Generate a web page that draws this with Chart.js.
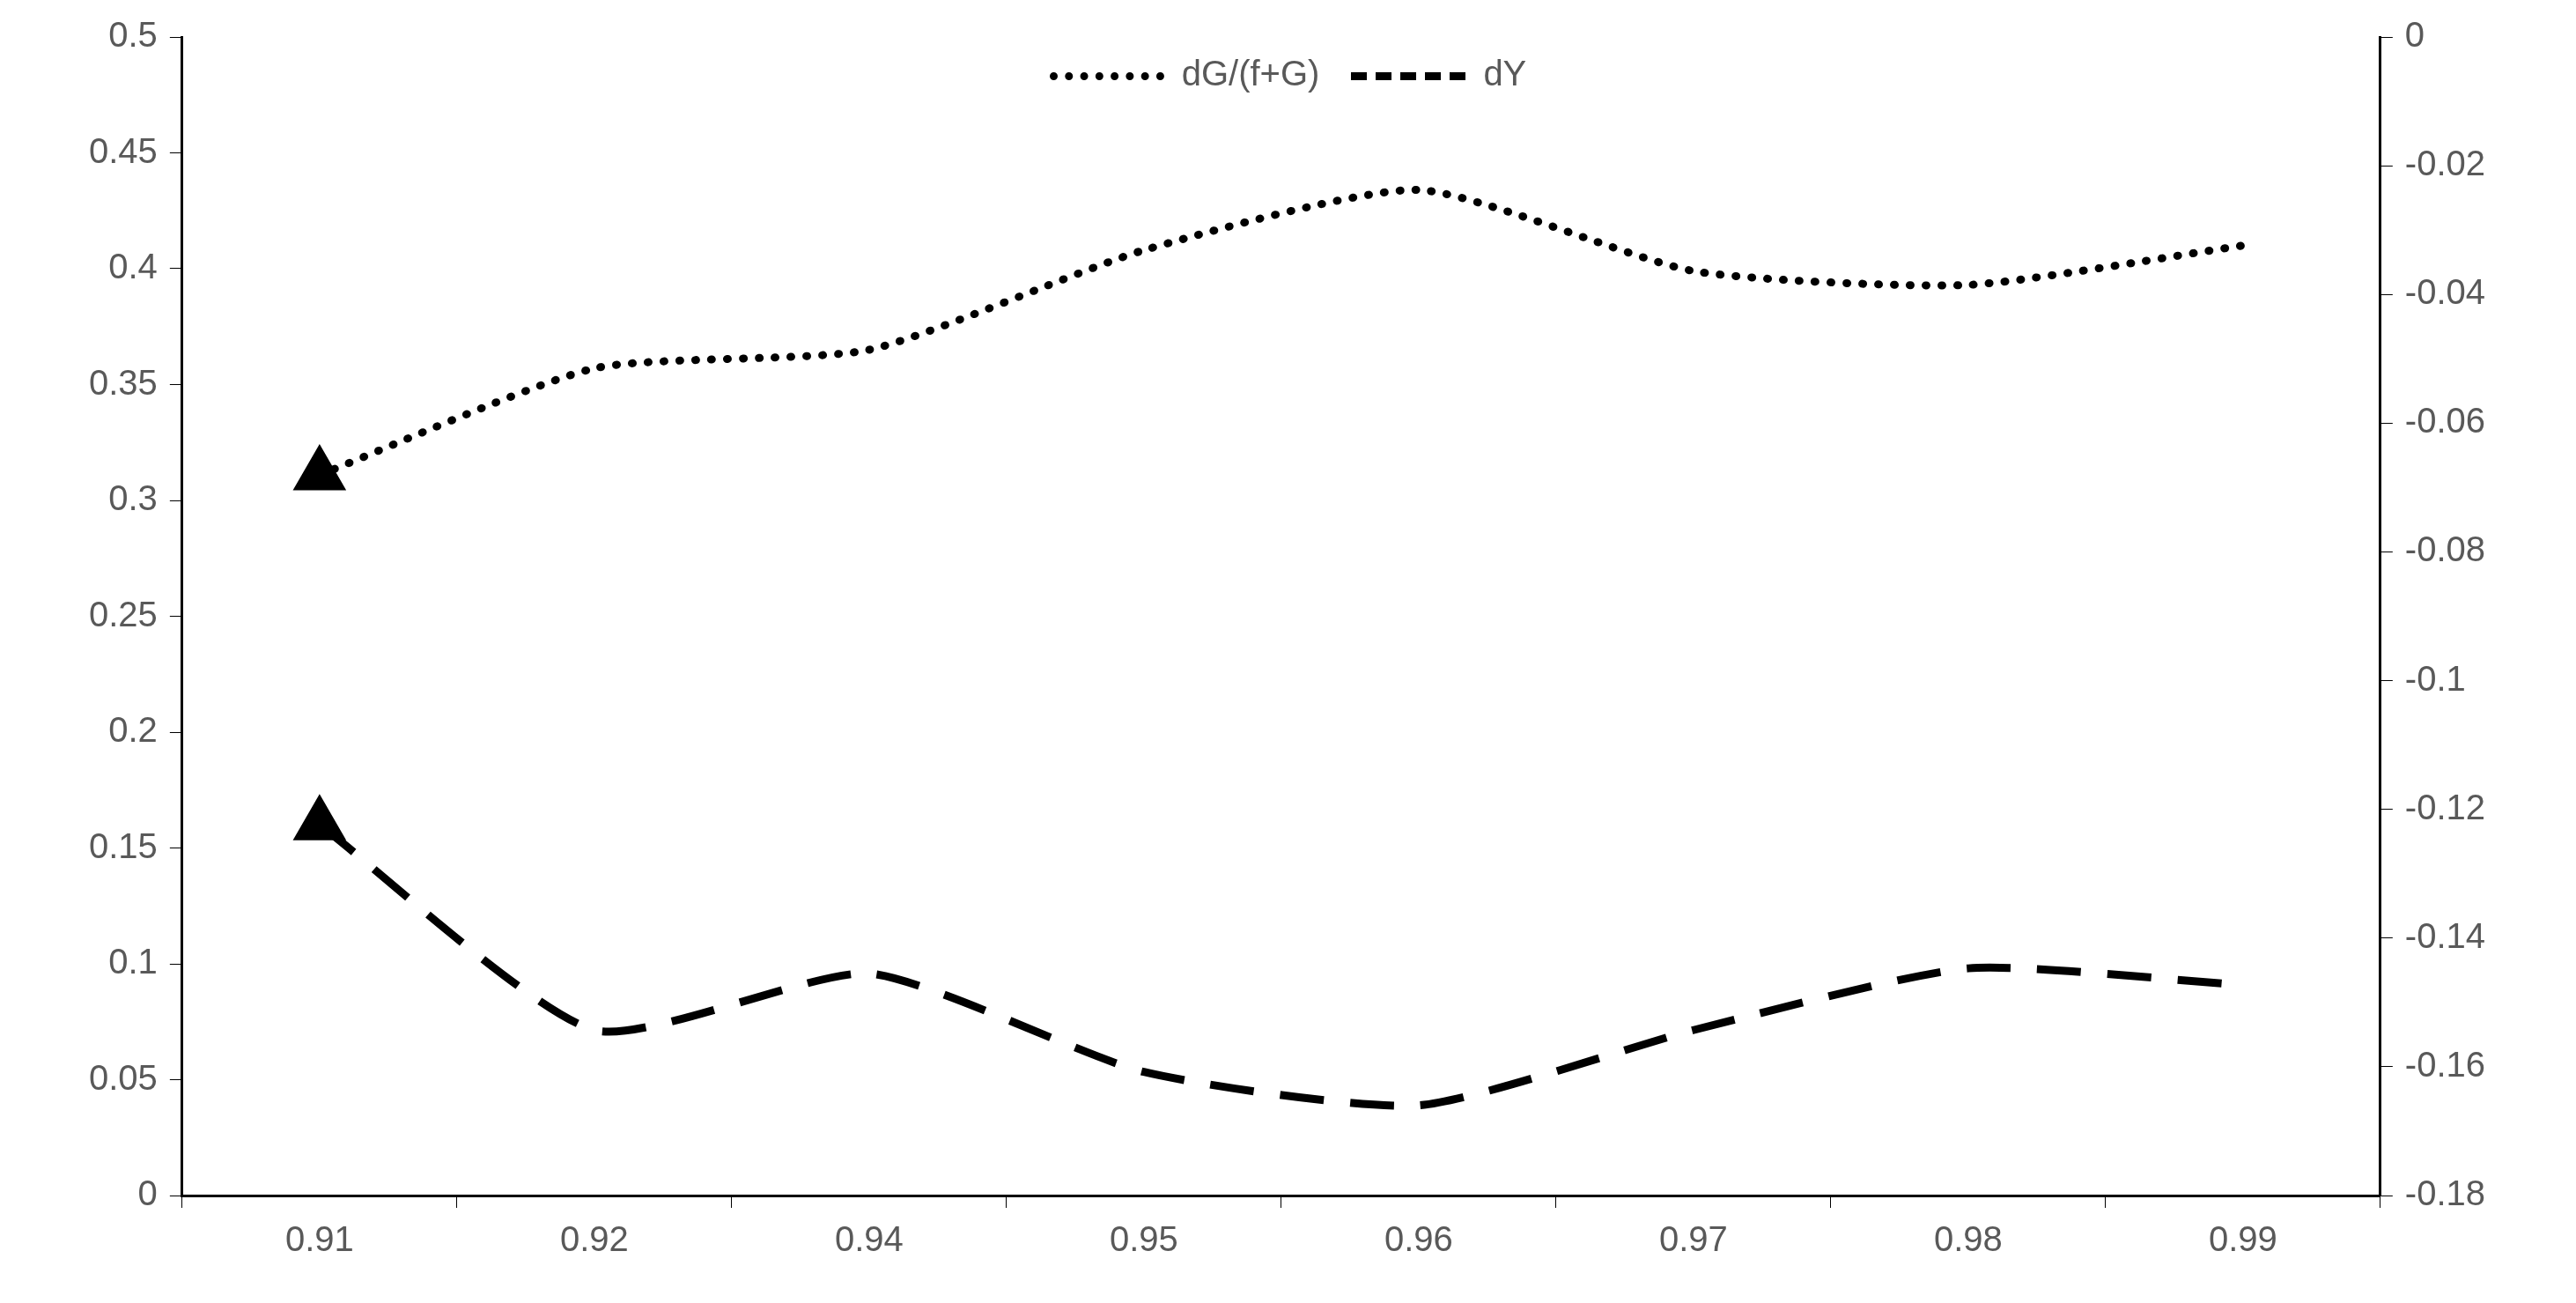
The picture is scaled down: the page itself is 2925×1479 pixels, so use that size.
<!DOCTYPE html>
<html><head><meta charset="utf-8">
<script src="https://cdn.jsdelivr.net/npm/chart.js@4/dist/chart.umd.min.js"></script>
<style>
html,body{margin:0;background:#fff}
#wrap{width:2925px;height:1479px;position:relative}
#legend{position:absolute;top:58px;left:0;width:2925px;text-align:center;font:40px 'Liberation Sans',sans-serif;color:#595959}
#legend span.item{display:inline-block;margin:0 18px;vertical-align:middle}
#legend span.swatch{display:inline-block;width:130px;height:0;vertical-align:middle;margin-right:20px}
</style>
</head><body><div id="wrap"><canvas id="c"></canvas>
<div id="legend"><span class="item"><span class="swatch" style="border-top:9px dotted #000"></span>dG/(f+G)</span><span class="item"><span class="swatch" style="border-top:9px dashed #000"></span>dY</span></div>
</div>
<script>
const categories = ['0.91','0.92','0.94','0.95','0.96','0.97','0.98','0.99'];
const dgValues = [0.311, 0.357, 0.365, 0.408, 0.434, 0.399, 0.393, 0.410];
const dyValues = [-0.1224, -0.1543, -0.1455, -0.1608, -0.166, -0.1543, -0.1447, -0.1473];

const textCol = '#595959';
Chart.defaults.font.family = "'Liberation Sans', sans-serif";
Chart.defaults.font.size = 40;
Chart.defaults.color = textCol;

const firstOnly = (style) => ctx => ctx.dataIndex === 0 ? style : false;

new Chart(document.getElementById('c'), {
    type: 'line',
    data: {
        labels: categories,
        datasets: [{
            label: 'dG/(f+G)',
            data: dgValues,
            yAxisID: 'y',
            borderColor: '#000',
            borderWidth: 9,
            borderDash: [1, 17],
            borderCapStyle: 'round',
            tension: 0.2,
            pointStyle: firstOnly('triangle'),
            pointRadius: ctx => ctx.dataIndex === 0 ? 26 : 0,
            backgroundColor: '#000',
            pointBackgroundColor: '#000'
        }, {
            label: 'dY',
            data: dyValues,
            yAxisID: 'y1',
            borderColor: '#000',
            borderWidth: 9,
            borderDash: [50, 30],
            tension: 0.2,
            pointStyle: firstOnly('triangle'),
            pointRadius: ctx => ctx.dataIndex === 0 ? 26 : 0,
            backgroundColor: '#000',
            pointBackgroundColor: '#000'
        }]
    },
    options: {
        responsive: true,
        maintainAspectRatio: false,
        animation: false,
        layout: { padding: { left: 87, right: 89, top: 42, bottom: 32 } },
        plugins: {
            legend: { display: false },
            tooltip: { enabled: false }
        },
        scales: {
            x: {
                offset: true,
                grid: { display: true, drawOnChartArea: false, offset: true, tickLength: 14, tickColor: '#000' },
                border: { color: '#000', width: 3 },
                ticks: { color: textCol, padding: 14 }
            },
            y: {
                position: 'left',
                min: 0, max: 0.5,
                grid: { display: true, drawOnChartArea: false, tickLength: 14, tickColor: '#000' },
                border: { color: '#000', width: 3 },
                ticks: { stepSize: 0.05, color: textCol, padding: 14, callback: v => +v.toFixed(2) }
            },
            y1: {
                position: 'right',
                min: -0.18, max: 0,
                grid: { display: true, drawOnChartArea: false, tickLength: 14, tickColor: '#000' },
                border: { color: '#000', width: 3 },
                ticks: { stepSize: 0.02, color: textCol, padding: 14, callback: v => +v.toFixed(2) }
            }
        }
    }
});
</script></body></html>
